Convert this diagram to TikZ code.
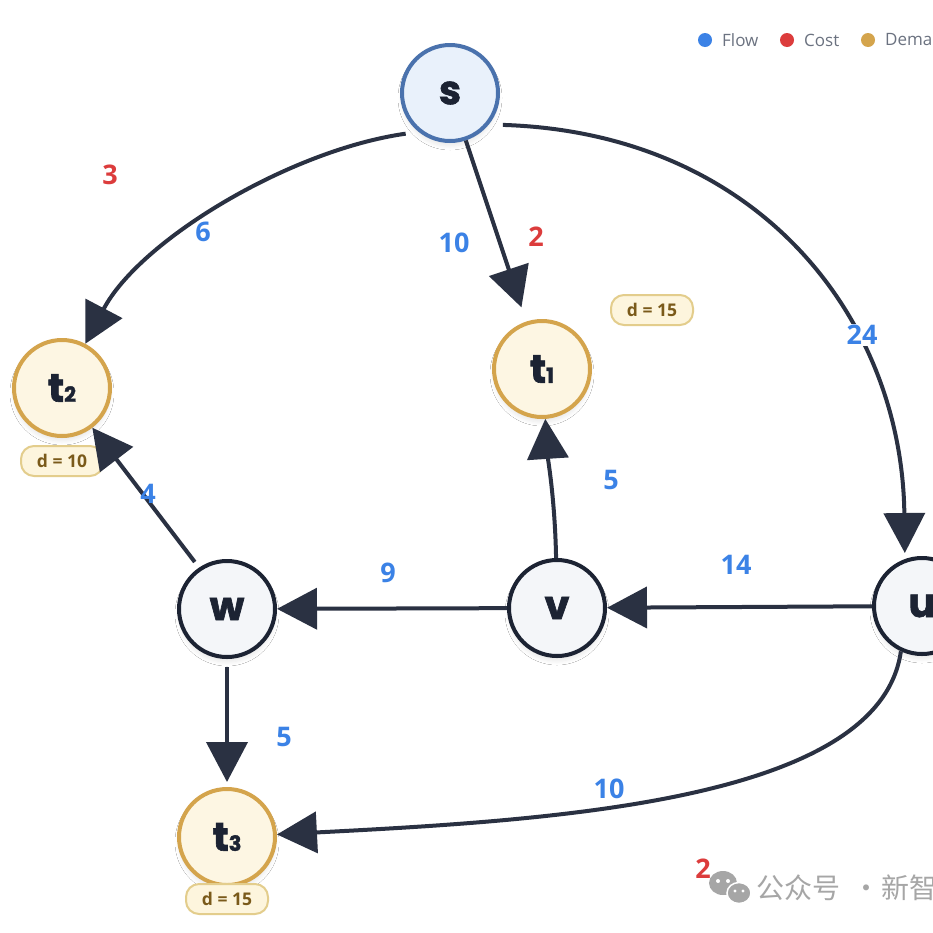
\documentclass[tikz,border=0pt]{standalone}
\usepackage{fontspec}
\setmainfont{Open Sans}
\newfontfamily\nodefont{Poppins}[BoldFeatures={FakeBold=1.6}]
\newfontfamily\cjkfont{Noto Sans CJK SC}
\usetikzlibrary{arrows.meta,shadows.blur}
\definecolor{edgec}{HTML}{2A3142}
\definecolor{flowc}{HTML}{3B82E6}
\definecolor{costc}{HTML}{DC3C3C}
\definecolor{goldc}{HTML}{D4A44C}
\definecolor{creamc}{HTML}{FDF6E3}
\definecolor{sfill}{HTML}{E9F1FB}
\definecolor{sdraw}{HTML}{4A72AD}
\definecolor{nfill}{HTML}{F4F6F9}
\definecolor{ndraw}{HTML}{1C2333}
\definecolor{dfill}{HTML}{FDF5DD}
\definecolor{ddraw}{HTML}{E3CD8C}
\definecolor{dtext}{HTML}{7A5A1A}
\definecolor{legtext}{HTML}{6B7280}
\definecolor{wmgray}{HTML}{A6A6A6}
\newcommand\tsubnum[1]{{\fontsize{21}{21}\selectfont #1}}
\begin{document}
\begin{tikzpicture}[x=1pt,y=-1pt,
  vertex/.style={circle,minimum size=96pt,inner sep=0pt,line width=4pt,
    font=\nodefont\bfseries\fontsize{40}{40}\selectfont,text=ndraw,
    blur shadow={shadow blur steps=6,shadow xshift=0pt,shadow yshift=-5pt,shadow opacity=9,shadow blur radius=4pt}},
  source/.style={vertex,draw=sdraw,fill=sfill},
  sink/.style={vertex,draw=goldc,fill=creamc},
  inner/.style={vertex,draw=ndraw,fill=nfill},
  edge/.style={draw=edgec,line width=4pt,-{Triangle[length=40pt,width=41pt]}},
  flow/.style={text=flowc,font=\bfseries\fontsize{27}{27}\selectfont,inner sep=1pt},
  cost/.style={text=costc,font=\bfseries\fontsize{27}{27}\selectfont,inner sep=1pt},
  demand/.style={draw=ddraw,fill=dfill,line width=2pt,rounded corners=13pt,
    minimum width=82pt,minimum height=30pt,inner sep=0pt,text=dtext,
    font=\bfseries\fontsize{17.5}{17.5}\selectfont},
  legdot/.style={circle,minimum size=14pt,inner sep=0pt},
  legtxt/.style={anchor=west,text=legtext,font=\fontsize{17}{17}\selectfont,inner sep=0pt},
]
\useasboundingbox (0,0) rectangle (933,932);
\clip (0,0) rectangle (933,932);
\fill[white] (0,0) rectangle (933,932);

% nodes
\node[source] (s) at (450,93) {s};
\node[sink] (t1) at (542,369) {t\tsubnum{1}};
\node[sink] (t2) at (62,388) {t\tsubnum{2}};
\node[sink] (t3) at (227,837) {t\tsubnum{3}};
\node[inner] (w) at (227,609) {w};
\node[inner] (v) at (557,608) {v};
\node[inner] (u) at (922,606) {u};

% demand tags
\node[demand] (d1) at (652,310) {d = 15};
\node[demand] (d2) at (62,461) {d = 10};
\node[demand] (d3) at (227,899) {d = 15};

% edges
\draw[edge,shorten <=13pt] (s.231) .. controls (290,150) and (140,240) .. (t2);
\draw[edge,shorten >=15pt] (s) -- (t1);
\draw[edge,shorten <=14pt,shorten >=6pt] (s.321) .. controls (760,133) and (902,320) .. (u.110);
\draw[edge] (v) .. controls (555,500) and (548,460) .. (t1);
\draw[edge] (u) -- (v);
\draw[edge] (v) -- (w);
\draw[edge,shorten <=7pt] (w.124) -- (t2);
\draw[edge,shorten <=8pt,shorten >=5pt] (w) -- (t3);
\draw[edge] (u.245) .. controls (880,800) and (560,820) .. (t3);

% edge labels
\node[cost] (c1) at (110,175) {3};
\node[flow] (f1) at (203,232) {6};
\node[flow] (f2) at (454,243) {10};
\node[cost] (c2) at (536,237) {2};
\node[flow,fill=white] (f3) at (862,335) {24};
\node[flow] (f4) at (611,480) {5};
\node[flow] (f5) at (736,565) {14};
\node[flow] (f6) at (388,573) {9};
\node[flow] (f7) at (148,494) {4};
\node[flow] (f8) at (284,737) {5};
\node[flow] (f9) at (609,789) {10};
\node[cost] (c3) at (703,869) {2};

% legend
\node[legdot,fill=flowc] (l1) at (705,40) {};
\node[legtxt] (lt1) at (722,40) {Flow};
\node[legdot,fill=costc] (l2) at (787,40) {};
\node[legtxt] (lt2) at (804,40) {Cost};
\node[legdot,fill=goldc] (l3) at (868,40) {};
\node[legtxt] (lt3) at (885,40) {Dema};

% watermark
\fill[wmgray] (723,883) ellipse (14 and 12);
\fill[white] (718,881) circle (2) (728,881) circle (2);
\draw[white,line width=1.5pt,fill=wmgray] (739,893) ellipse (12 and 10.5);
\fill[white] (735,891) circle (1.7) (743,891) circle (1.7);
\node[anchor=west,text=wmgray,font=\cjkfont\fontsize{28}{28}\selectfont,inner sep=0pt] (wm) at (756,888) {公众号\hspace{12pt}·\hspace{1pt}新智};
\end{tikzpicture}
\end{document}
